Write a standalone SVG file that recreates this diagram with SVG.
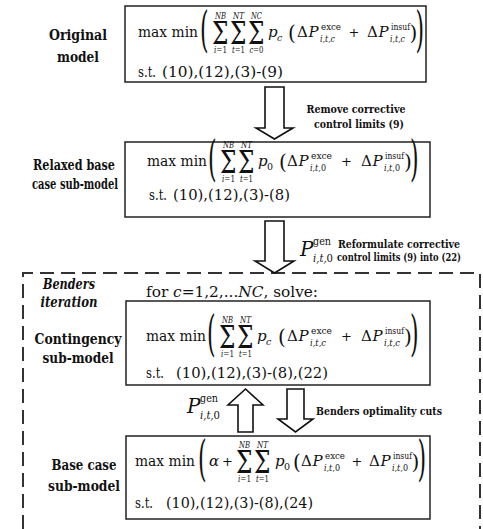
<svg xmlns="http://www.w3.org/2000/svg" width="483" height="529" viewBox="0 0 483 529">
<style>
text{font-family:"DejaVu Serif",serif;fill:#111}
.f{font-size:15px}
.pl{font-size:13px}
.it{font-style:italic}
.sc{font-size:9.5px}
.lim{font-size:9px}
.big{font-size:49px}
.sig{font-size:31px}
.mp{font-size:20px}
.pg{font-size:20px;font-style:italic}
.g11{font-size:11px}
.lbl{font-size:14.5px;font-weight:bold;text-anchor:middle}
.cap{font-size:10.5px;font-weight:bold}
.box{fill:#fff;stroke:#222;stroke-width:1.5}
.arrow{fill:#fff;stroke:#111;stroke-width:1.6;stroke-linejoin:miter}
.dash{fill:none;stroke:#333;stroke-width:2;stroke-dasharray:14 7}
.mid{text-anchor:middle}
</style>
<rect width="483" height="529" fill="#fff"/>

<g id="node-benders">
<path class="dash" d="M23,529 V273 H480 V529"/>
<text class="lbl it" x="69" y="289" textLength="52" lengthAdjust="spacingAndGlyphs">Benders</text>
<text class="lbl it" x="69" y="307" textLength="57" lengthAdjust="spacingAndGlyphs">iteration</text>
<text class="f" x="146" y="297" textLength="172" lengthAdjust="spacingAndGlyphs">for <tspan class="it">c</tspan>=1,2,...<tspan class="it">NC</tspan>,  solve:</text>
</g>

<g id="node-original">
<rect class="box" x="125" y="6" width="301" height="76"/>
<text class="lbl" x="78" y="40" textLength="58" lengthAdjust="spacingAndGlyphs">Original</text>
<text class="lbl" x="78" y="62" textLength="42" lengthAdjust="spacingAndGlyphs">model</text>
<text class="f" x="138" y="37" textLength="60" lengthAdjust="spacingAndGlyphs">max min</text>
<text class="big" transform="translate(200,46) scale(0.45,1)">(</text>
<text class="sig" transform="translate(212,44) scale(0.75,1)">Σ</text>
<text class="sig" transform="translate(230,44) scale(0.75,1)">Σ</text>
<text class="sig" transform="translate(248,44) scale(0.75,1)">Σ</text>
<text class="lim it mid" x="220.5" y="19" textLength="11" lengthAdjust="spacingAndGlyphs">NB</text>
<text class="lim it mid" x="238.5" y="19" textLength="11" lengthAdjust="spacingAndGlyphs">NT</text>
<text class="lim it mid" x="256.5" y="19" textLength="11" lengthAdjust="spacingAndGlyphs">NC</text>
<text class="lim mid" x="220.5" y="53" textLength="13" lengthAdjust="spacingAndGlyphs"><tspan class="it">i</tspan>=1</text>
<text class="lim mid" x="238.5" y="53" textLength="13" lengthAdjust="spacingAndGlyphs"><tspan class="it">t</tspan>=1</text>
<text class="lim mid" x="256.5" y="53" textLength="14" lengthAdjust="spacingAndGlyphs"><tspan class="it">c</tspan>=0</text>
<text class="f it" x="268" y="37">p</text>
<text class="sc it" x="277" y="41">c</text>
<text class="mp" x="288" y="40">(</text>
<text class="f" x="297" y="37">Δ</text>
<text class="f it" x="308.5" y="37">P</text>
<text class="sc" x="321" y="30" textLength="20" lengthAdjust="spacingAndGlyphs">exce</text>
<text class="sc it" x="320" y="42" textLength="15" lengthAdjust="spacingAndGlyphs">i,t,c</text>
<text class="pl" x="348.5" y="37">+</text>
<text class="f" x="367" y="37">Δ</text>
<text class="f it" x="378.5" y="37">P</text>
<text class="sc" x="391" y="30" textLength="19" lengthAdjust="spacingAndGlyphs">insuf</text>
<text class="sc it" x="390" y="42" textLength="15" lengthAdjust="spacingAndGlyphs">i,t,c</text>
<text class="mp" x="409.5" y="40">)</text>
<text class="big" transform="translate(415.5,46) scale(0.45,1)">)</text>
<text class="f" x="138" y="77" textLength="18" lengthAdjust="spacingAndGlyphs">s.t.</text>
<text class="f" x="162" y="77" textLength="121" lengthAdjust="spacingAndGlyphs">(10),(12),(3)-(9)</text>
</g>

<g id="node-relaxed">
<rect class="box" x="125" y="142" width="305" height="75"/>
<text class="lbl" x="74" y="170" textLength="82" lengthAdjust="spacingAndGlyphs">Relaxed base</text>
<text class="lbl" x="75" y="189" textLength="86" lengthAdjust="spacingAndGlyphs">case sub-model</text>
<text class="f" x="147" y="166" textLength="60" lengthAdjust="spacingAndGlyphs">max min</text>
<text class="big" transform="translate(208,175) scale(0.45,1)">(</text>
<text class="sig" transform="translate(220,173) scale(0.75,1)">Σ</text>
<text class="sig" transform="translate(238,173) scale(0.75,1)">Σ</text>
<text class="lim it mid" x="228.5" y="148" textLength="11" lengthAdjust="spacingAndGlyphs">NB</text>
<text class="lim it mid" x="246.5" y="148" textLength="11" lengthAdjust="spacingAndGlyphs">NT</text>
<text class="lim mid" x="228.5" y="182" textLength="13" lengthAdjust="spacingAndGlyphs"><tspan class="it">i</tspan>=1</text>
<text class="lim mid" x="246.5" y="182" textLength="13" lengthAdjust="spacingAndGlyphs"><tspan class="it">t</tspan>=1</text>
<text class="f it" x="258" y="166">p</text>
<text class="sc" x="267" y="170">0</text>
<text class="mp" x="279" y="169">(</text>
<text class="f" x="287" y="166">Δ</text>
<text class="f it" x="298.5" y="166">P</text>
<text class="sc" x="311" y="159" textLength="21" lengthAdjust="spacingAndGlyphs">exce</text>
<text class="sc" x="310" y="171" textLength="16" lengthAdjust="spacingAndGlyphs"><tspan class="it">i,t,</tspan>0</text>
<text class="pl" x="341" y="166">+</text>
<text class="f" x="361" y="166">Δ</text>
<text class="f it" x="372.5" y="166">P</text>
<text class="sc" x="385" y="159" textLength="19" lengthAdjust="spacingAndGlyphs">insuf</text>
<text class="sc" x="384" y="171" textLength="16" lengthAdjust="spacingAndGlyphs"><tspan class="it">i,t,</tspan>0</text>
<text class="mp" x="404" y="169">)</text>
<text class="big" transform="translate(410,175) scale(0.45,1)">)</text>
<text class="f" x="149" y="200" textLength="18" lengthAdjust="spacingAndGlyphs">s.t.</text>
<text class="f" x="173" y="200" textLength="117" lengthAdjust="spacingAndGlyphs">(10),(12),(3)-(8)</text>
</g>

<g id="node-contingency">
<rect class="box" x="126" y="301" width="304" height="84"/>
<text class="lbl" x="78" y="344" textLength="87" lengthAdjust="spacingAndGlyphs">Contingency</text>
<text class="lbl" x="78" y="363" textLength="71" lengthAdjust="spacingAndGlyphs">sub-model</text>
<text class="f" x="146" y="341" textLength="60" lengthAdjust="spacingAndGlyphs">max min</text>
<text class="big" transform="translate(207,350) scale(0.45,1)">(</text>
<text class="sig" transform="translate(219,348) scale(0.75,1)">Σ</text>
<text class="sig" transform="translate(237,348) scale(0.75,1)">Σ</text>
<text class="lim it mid" x="227.5" y="323" textLength="11" lengthAdjust="spacingAndGlyphs">NB</text>
<text class="lim it mid" x="245.5" y="323" textLength="11" lengthAdjust="spacingAndGlyphs">NT</text>
<text class="lim mid" x="227.5" y="357" textLength="13" lengthAdjust="spacingAndGlyphs"><tspan class="it">i</tspan>=1</text>
<text class="lim mid" x="245.5" y="357" textLength="13" lengthAdjust="spacingAndGlyphs"><tspan class="it">t</tspan>=1</text>
<text class="f it" x="257" y="341">p</text>
<text class="sc it" x="266" y="345">c</text>
<text class="mp" x="278" y="344">(</text>
<text class="f" x="287" y="341">Δ</text>
<text class="f it" x="298.5" y="341">P</text>
<text class="sc" x="311" y="334" textLength="21" lengthAdjust="spacingAndGlyphs">exce</text>
<text class="sc it" x="310" y="346" textLength="16" lengthAdjust="spacingAndGlyphs">i,t,c</text>
<text class="pl" x="341" y="341">+</text>
<text class="f" x="361" y="341">Δ</text>
<text class="f it" x="372.5" y="341">P</text>
<text class="sc" x="385" y="334" textLength="19" lengthAdjust="spacingAndGlyphs">insuf</text>
<text class="sc it" x="384" y="346" textLength="16" lengthAdjust="spacingAndGlyphs">i,t,c</text>
<text class="mp" x="404" y="344">)</text>
<text class="big" transform="translate(410,350) scale(0.45,1)">)</text>
<text class="f" x="146" y="378" textLength="18" lengthAdjust="spacingAndGlyphs">s.t.</text>
<text class="f" x="176" y="378" textLength="152" lengthAdjust="spacingAndGlyphs">(10),(12),(3)-(8),(22)</text>
</g>

<g id="node-base">
<rect class="box" x="126" y="436" width="304" height="83"/>
<text class="lbl" x="84" y="470" textLength="65" lengthAdjust="spacingAndGlyphs">Base case</text>
<text class="lbl" x="84" y="491" textLength="72" lengthAdjust="spacingAndGlyphs">sub-model</text>
<text class="f" x="135" y="466" textLength="60" lengthAdjust="spacingAndGlyphs">max min</text>
<text class="big" transform="translate(198,475) scale(0.45,1)">(</text>
<text class="f it" x="209" y="466">α</text>
<text class="pl" x="222" y="466">+</text>
<text class="sig" transform="translate(236,473) scale(0.75,1)">Σ</text>
<text class="sig" transform="translate(254,473) scale(0.75,1)">Σ</text>
<text class="lim it mid" x="244.5" y="448" textLength="11" lengthAdjust="spacingAndGlyphs">NB</text>
<text class="lim it mid" x="262.5" y="448" textLength="11" lengthAdjust="spacingAndGlyphs">NT</text>
<text class="lim mid" x="244.5" y="482" textLength="13" lengthAdjust="spacingAndGlyphs"><tspan class="it">i</tspan>=1</text>
<text class="lim mid" x="262.5" y="482" textLength="13" lengthAdjust="spacingAndGlyphs"><tspan class="it">t</tspan>=1</text>
<text class="f it" x="275" y="466">p</text>
<text class="sc" x="284" y="470">0</text>
<text class="mp" x="293" y="469">(</text>
<text class="f" x="301" y="466">Δ</text>
<text class="f it" x="312.5" y="466">P</text>
<text class="sc" x="325" y="459" textLength="20" lengthAdjust="spacingAndGlyphs">exce</text>
<text class="sc" x="324" y="471" textLength="16" lengthAdjust="spacingAndGlyphs"><tspan class="it">i,t,</tspan>0</text>
<text class="pl" x="351.5" y="466">+</text>
<text class="f" x="369" y="466">Δ</text>
<text class="f it" x="380.5" y="466">P</text>
<text class="sc" x="393" y="459" textLength="19" lengthAdjust="spacingAndGlyphs">insuf</text>
<text class="sc" x="392" y="471" textLength="16" lengthAdjust="spacingAndGlyphs"><tspan class="it">i,t,</tspan>0</text>
<text class="mp" x="411.5" y="469">)</text>
<text class="big" transform="translate(417.5,475) scale(0.45,1)">)</text>
<text class="f" x="135" y="508" textLength="18" lengthAdjust="spacingAndGlyphs">s.t.</text>
<text class="f" x="166" y="508" textLength="147" lengthAdjust="spacingAndGlyphs">(10),(12),(3)-(8),(24)</text>
</g>

<g id="connectors">
<polygon class="arrow" points="265,87 284,87 284,128 293,128 274.5,139 256,128 265,128"/>
<text class="cap mid" x="356" y="113" textLength="99" lengthAdjust="spacingAndGlyphs">Remove corrective</text>
<text class="cap mid" x="359" y="128" textLength="90" lengthAdjust="spacingAndGlyphs">control limits (9)</text>

<polygon class="arrow" points="265,221 284,221 284,261 294,261 274.5,273 255,261 265,261"/>
<text class="pg" x="300" y="256">P</text>
<text class="g11" x="313" y="245" textLength="18" lengthAdjust="spacingAndGlyphs">gen</text>
<text class="g11" x="313" y="262" textLength="20" lengthAdjust="spacingAndGlyphs"><tspan class="it">i,t,</tspan>0</text>
<text class="cap mid" x="399" y="248" textLength="122" lengthAdjust="spacingAndGlyphs">Reformulate corrective</text>
<text class="cap mid" x="399" y="261" textLength="124" lengthAdjust="spacingAndGlyphs">control limits (9) into (22)</text>

<polygon class="arrow" points="238,432 253,432 253,405 263,405 245.5,389 228,405 238,405"/>
<polygon class="arrow" points="287,389 304,389 304,419 313,419 295.5,432 278,419 287,419"/>
<text class="pg" x="187" y="413">P</text>
<text class="g11" x="200" y="402" textLength="18" lengthAdjust="spacingAndGlyphs">gen</text>
<text class="g11" x="200" y="419" textLength="20" lengthAdjust="spacingAndGlyphs"><tspan class="it">i,t,</tspan>0</text>
<text class="cap" x="316" y="415" textLength="126" lengthAdjust="spacingAndGlyphs">Benders optimality cuts</text>
</g>
</svg>
